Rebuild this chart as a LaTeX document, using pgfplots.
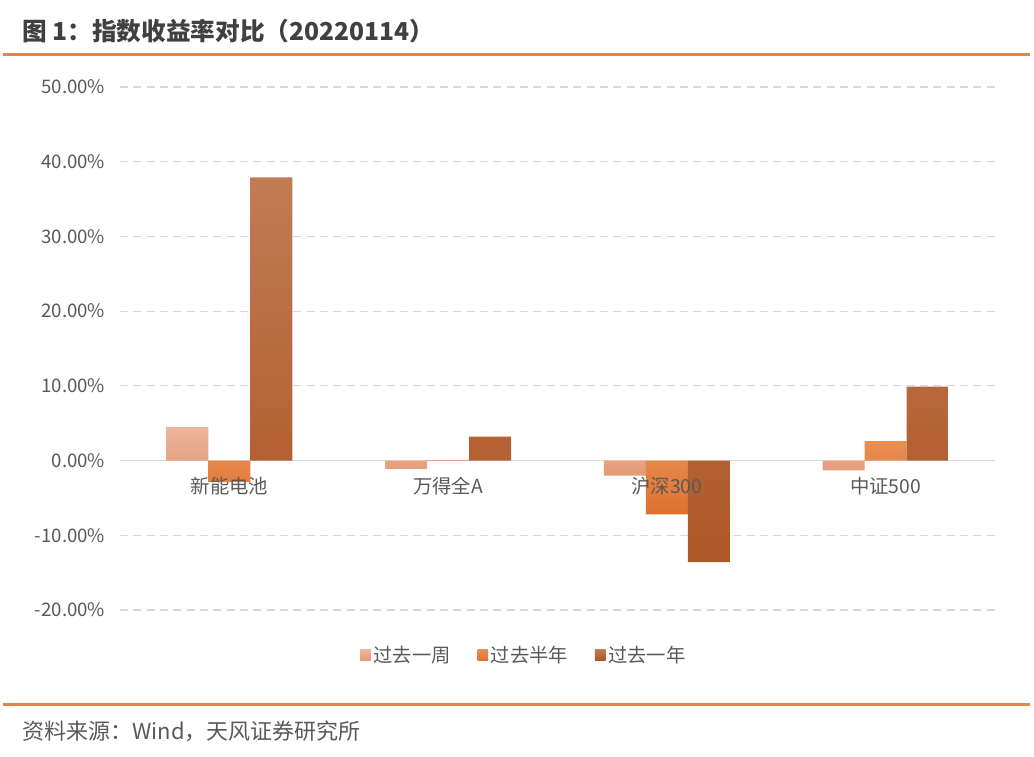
\documentclass[border=0pt]{standalone}
\usepackage{fontspec}
\setmainfont{Noto Sans CJK SC}
\usepackage{pgfplots}
\pgfplotsset{compat=1.18}
\definecolor{gridc}{HTML}{D9D9D9}
\definecolor{txt}{HTML}{595959}
\definecolor{ttl}{HTML}{404040}
\definecolor{rule}{HTML}{E0874A}
\definecolor{wkT}{HTML}{EDB59B}\definecolor{wkB}{HTML}{E49A78}\definecolor{wk}{HTML}{E9A886}
\definecolor{hyT}{HTML}{EA8E52}\definecolor{hyB}{HTML}{DC7230}\definecolor{hy}{HTML}{E37E3A}
\definecolor{yrT}{HTML}{C27B55}\definecolor{yrB}{HTML}{AE5726}\definecolor{yr}{HTML}{B86130}
\begin{document}
\begin{tikzpicture}
\useasboundingbox (0,0) rectangle (775.5pt,567pt);
\node[anchor=west,font=\fontsize{18.5pt}{20pt}\selectfont\bfseries,text=ttl,inner sep=0pt] at (16.5pt,543.75pt) {图 1：指数收益率对比（20220114）};
\draw[rule,line width=2.25pt] (2.25pt,525.75pt) -- (772.5pt,525.75pt);
\draw[rule,line width=2.25pt] (2.25pt,38.25pt) -- (772.5pt,38.25pt);
\node[anchor=west,font=\fontsize{16.5pt}{18pt}\selectfont,text=txt,inner sep=0pt] at (16.5pt,18.75pt) {资料来源：Wind，天风证券研究所};
\begin{axis}[
  at={(90pt,109.5pt)}, anchor=south west,
  scale only axis, width=656.25pt, height=392.25pt,
  xmin=-0.5, xmax=3.5, ymin=-20, ymax=50,
  axis x line=middle, axis y line=left,
  x axis line style={-,draw=gridc,line width=1pt},
  y axis line style={draw=none},
  xtick={0,1,2,3}, xticklabels={},
  xtick style={draw=none}, ytick style={draw=none},
  ytick={-20,-10,0,10,20,30,40,50},
  ymajorgrids, grid style={gridc,dash pattern=on 6pt off 4pt,line width=0.8pt},
  yticklabel={\pgfmathprintnumber[fixed,fixed zerofill,precision=2]{\tick}\%},
  /pgf/number format/assume math mode=true,
  ticklabel style={font=\fontsize{14pt}{16pt}\selectfont,text=txt},
  yticklabel style={xshift=-5.5pt},
  ybar=0pt, bar width=31.5pt,
  legend columns=3,
  legend style={at={(0.5,0)},anchor=center,xshift=-25pt,yshift=-33.75pt,draw=none,fill=none,
    font=\fontsize{14.5pt}{16pt}\selectfont,text=txt,
    /tikz/every even column/.append style={column sep=18pt}},
]
\addplot[draw=none,top color=wkT,bottom color=wkB,legend image code/.code={\fill[wk] (-2pt,-4pt) rectangle (6pt,4pt);}] coordinates {(0,4.5) (1,-1.1) (2,-2.0) (3,-1.3)};
\addplot[draw=none,top color=hyT,bottom color=hyB,legend image code/.code={\fill[hy] (-2pt,-4pt) rectangle (6pt,4pt);}] coordinates {(0,-2.9) (1,0.05) (2,-7.2) (3,2.6)};
\addplot[draw=none,top color=yrT,bottom color=yrB,legend image code/.code={\fill[yr] (-2pt,-4pt) rectangle (6pt,4pt);}] coordinates {(0,37.9) (1,3.2) (2,-13.6) (3,9.9)};
\legend{过去一周,过去半年,过去一年}
\path[font=\fontsize{14.5pt}{16pt}\selectfont,text=txt]
  (axis cs:0,0) node[anchor=north,yshift=-9pt] {新能电池}
  (axis cs:1,0) node[anchor=north,yshift=-9pt] {万得全A}
  (axis cs:2,0) node[anchor=north,yshift=-9pt] {沪深300}
  (axis cs:3,0) node[anchor=north,yshift=-9pt] {中证500};
\end{axis}
\end{tikzpicture}
\end{document}
